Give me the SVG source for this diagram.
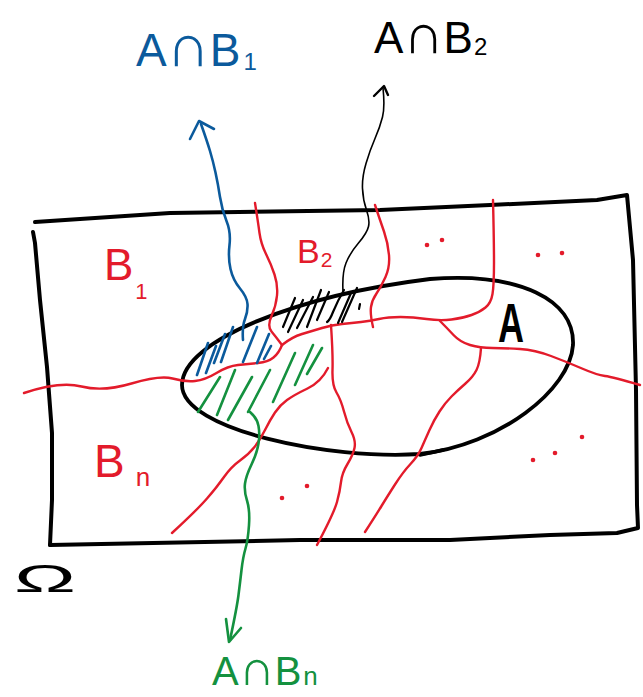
<svg xmlns="http://www.w3.org/2000/svg" width="643" height="697" viewBox="0 0 643 697">
<style>
.k{fill:none;stroke:#000;stroke-linecap:round;stroke-linejoin:round}
.r{fill:none;stroke:#e31b2b;stroke-width:2.4;stroke-linecap:round;stroke-linejoin:round}
.b{fill:none;stroke:#0b5a9c;stroke-width:2.6;stroke-linecap:round;stroke-linejoin:round}
.g{fill:none;stroke:#14913f;stroke-width:2.6;stroke-linecap:round;stroke-linejoin:round}
.t{font-family:"Liberation Sans","DejaVu Sans",sans-serif}
.dot{fill:#e31b2b}
</style>
<rect width="643" height="697" fill="#fff"/>
<g id="omega">
<path class="k" stroke-width="4" d="M35,222 L170,213 L380,210 L490,205 L597,200 L627,195 L633,260 L636,390 L637,505 L638,528 L617,533 L550,535 L450,540 L300,540 L50,545"/>
<path class="k" stroke-width="4" d="M33,232 L35,243 L40,300 L47,367 L52,433 L52,500 L50,545"/>
<text class="t" x="14" y="592" font-size="38" textLength="62" lengthAdjust="spacingAndGlyphs" fill="#000">Ω</text>
</g>
<g id="A">
<path class="k" stroke-width="3.8" d="M182,385 C182,340 300,295 430,279 C520,272 575,300 573,345 C570,390 500,445 420,454 C330,460 182,430 182,385 Z"/>
<path class="k" stroke-width="3.5" d="M420,455 L443,450"/>
<text class="t" x="498" y="342" font-size="56" font-weight="bold" textLength="26" lengthAdjust="spacingAndGlyphs" fill="#000">A</text>
</g>
<g id="partition">
<path class="r" d="M24,393 Q60,381 81.5,386.5 Q103,392 131.5,383.5 Q160,375 172.5,378.5 Q185,382 195,381 Q205,380 216.5,373 Q228,366 238,365 Q248,364 258,363 Q268,362 273.5,357.5 Q279,353 282,345"/>
<path class="r" d="M255,203 Q258,222 259.5,233 Q261,244 266,254 Q271,264 274.5,274.5 Q278,285 277,295.5 Q276,306 271.5,316 Q267,326 271.5,331.5 Q276,337 282,345"/>
<path class="r" d="M282,345 Q292,337 302,334 Q312,331 322,328 Q332,325 342,324 Q352,323 361,322 Q370,321 379,319 Q388,317 400.5,317 Q413,317 426.5,319 Q440,321 451.5,319.5 Q463,318 471.5,315 Q480,312 485.5,307.5 Q491,303 492.5,294 Q494,285 494,262.5 Q494,240 493,200"/>
<path class="r" d="M375,205 Q380,220 384,231.5 Q388,243 389,255 Q390,267 385.5,277 Q381,287 376.5,293.5 Q372,300 371,307 Q370,314 373,327"/>
<path class="r" d="M440,321 Q447,328 453.5,335 Q460,342 470,345 Q480,348 492.5,348 Q505,348 520,349 Q535,350 551,356 Q567,362 582,368.5 Q597,375 605,376 Q613,377 640,385"/>
<path class="r" d="M481,348 Q480,363 476.5,370 Q473,377 465.5,383.5 Q458,390 451.5,396.5 Q445,403 439.5,411.5 Q434,420 429.5,430 Q425,440 421.5,448 Q418,456 410.5,464 Q403,472 395,484.5 Q387,497 381.5,506 Q376,515 365,532"/>
<path class="r" d="M331,325 Q333,355 332.5,370 Q332,385 336.5,392.5 Q341,400 344,411.5 Q347,423 351.5,432 Q356,441 354.5,448 Q353,455 347.5,464 Q342,473 341,482 Q340,491 337,502 Q334,513 317,545"/>
<path class="r" d="M328,368 Q321,382 307.5,388.5 Q294,395 287,400 Q280,405 275,412.5 Q270,420 265,430 Q260,440 254.5,447 Q249,454 240,460.5 Q231,467 224,477 Q217,487 207,498.5 Q197,510 172,533"/>
<circle class="dot" cx="427" cy="245" r="2.3"/><circle class="dot" cx="442" cy="240" r="2.3"/>
<circle class="dot" cx="538" cy="255" r="2.3"/><circle class="dot" cx="562" cy="253" r="2.3"/>
<circle class="dot" cx="533" cy="460" r="2.3"/><circle class="dot" cx="555" cy="453" r="2.3"/><circle class="dot" cx="582" cy="437" r="2.3"/>
<circle class="dot" cx="282" cy="498" r="2.3"/><circle class="dot" cx="307" cy="486" r="2.3"/>
</g>
<g id="B1"><text class="t" x="104" y="280" font-size="44" fill="#e31b2b">B<tspan font-size="22" dx="2" dy="19">1</tspan></text></g>
<g id="B2"><text class="t" x="297" y="263" font-size="34" fill="#e31b2b">B<tspan font-size="21" dx="1" dy="4">2</tspan></text></g>
<g id="Bn"><text class="t" x="94" y="477" font-size="46" fill="#e31b2b">B<tspan font-size="26" dx="11" dy="9">n</tspan></text></g>
<g id="hatch-AB1">
<path class="b" d="M208,343 L197,375 M216,346 L206,373 M225,334 L214,363 M233,327 L221,362 M257,327 L243,362 M269,334 L257,363 M271,346 L264,359"/>
</g>
<g id="hatch-AB2">
<path class="k" stroke-width="2.2" d="M295,298 L283,327 M303,300 L288,332 M313,297 L297,328 M321,290 L307,327 M329,292 L317,320 M344,290 Q338,300 333,312 Q330,320 327,322 M351,293 L338,323 M357,288 L342,322 M360,304 L359,309"/>
</g>
<g id="hatch-ABn">
<path class="g" d="M220,377 L198,412 M235,370 L217,415 M252,377 L228,420 M270,370 L248,412 M295,353 L273,402 M313,345 L295,385 M322,348 L307,374"/>
</g>
<g id="connectors">
<path class="b" d="M201,124 Q207,141 210,151 Q213,161 215.5,172.5 Q218,184 220,197 Q222,210 226.5,221 Q231,232 229.5,245 Q228,258 230.5,269 Q233,280 240,288.5 Q247,297 247.5,304 Q248,311 245,319 Q242,327 243,340"/>
<path class="b" stroke-width="3.4" d="M190,139 L199,121 L214,129"/>
<path class="k" stroke-width="1.6" d="M383,88 Q385,107 382.5,117 Q380,127 375,138.5 Q370,150 366,163.5 Q362,177 362.5,188.5 Q363,200 366.5,210 Q370,220 368.5,226.5 Q367,233 358.5,243 Q350,253 346,263 Q342,273 343,292"/>
<path class="k" stroke-width="2.4" d="M374,96 L384,86 L388,95"/>
<path class="g" d="M250,412 Q257,418 258.5,426 Q260,434 258.5,443.5 Q257,453 251.5,464.5 Q246,476 245,483.5 Q244,491 247,500.5 Q250,510 249,525 Q248,540 245.5,548.5 Q243,557 241.5,570 Q240,583 238.5,595 Q237,607 230,640"/>
<path class="g" stroke-width="3" d="M226,619 L229,642 L241,628"/>
</g>
<g id="label-AB1"><text class="t" x="136" y="66" font-size="46" fill="#0b5a9c">A<tspan font-size="60">∩</tspan>B<tspan font-size="24" dx="3" dy="4">1</tspan></text></g>
<g id="label-AB2"><text class="t" x="374" y="53" font-size="44" fill="#000">A<tspan font-size="56">∩</tspan>B<tspan font-size="24" dx="1" dy="2">2</tspan></text></g>
<g id="label-ABn"><text class="t" x="212" y="685" font-size="40" fill="#14913f">A<tspan font-size="50">∩</tspan>B<tspan font-size="26" dx="2">n</tspan></text></g>
</svg>
